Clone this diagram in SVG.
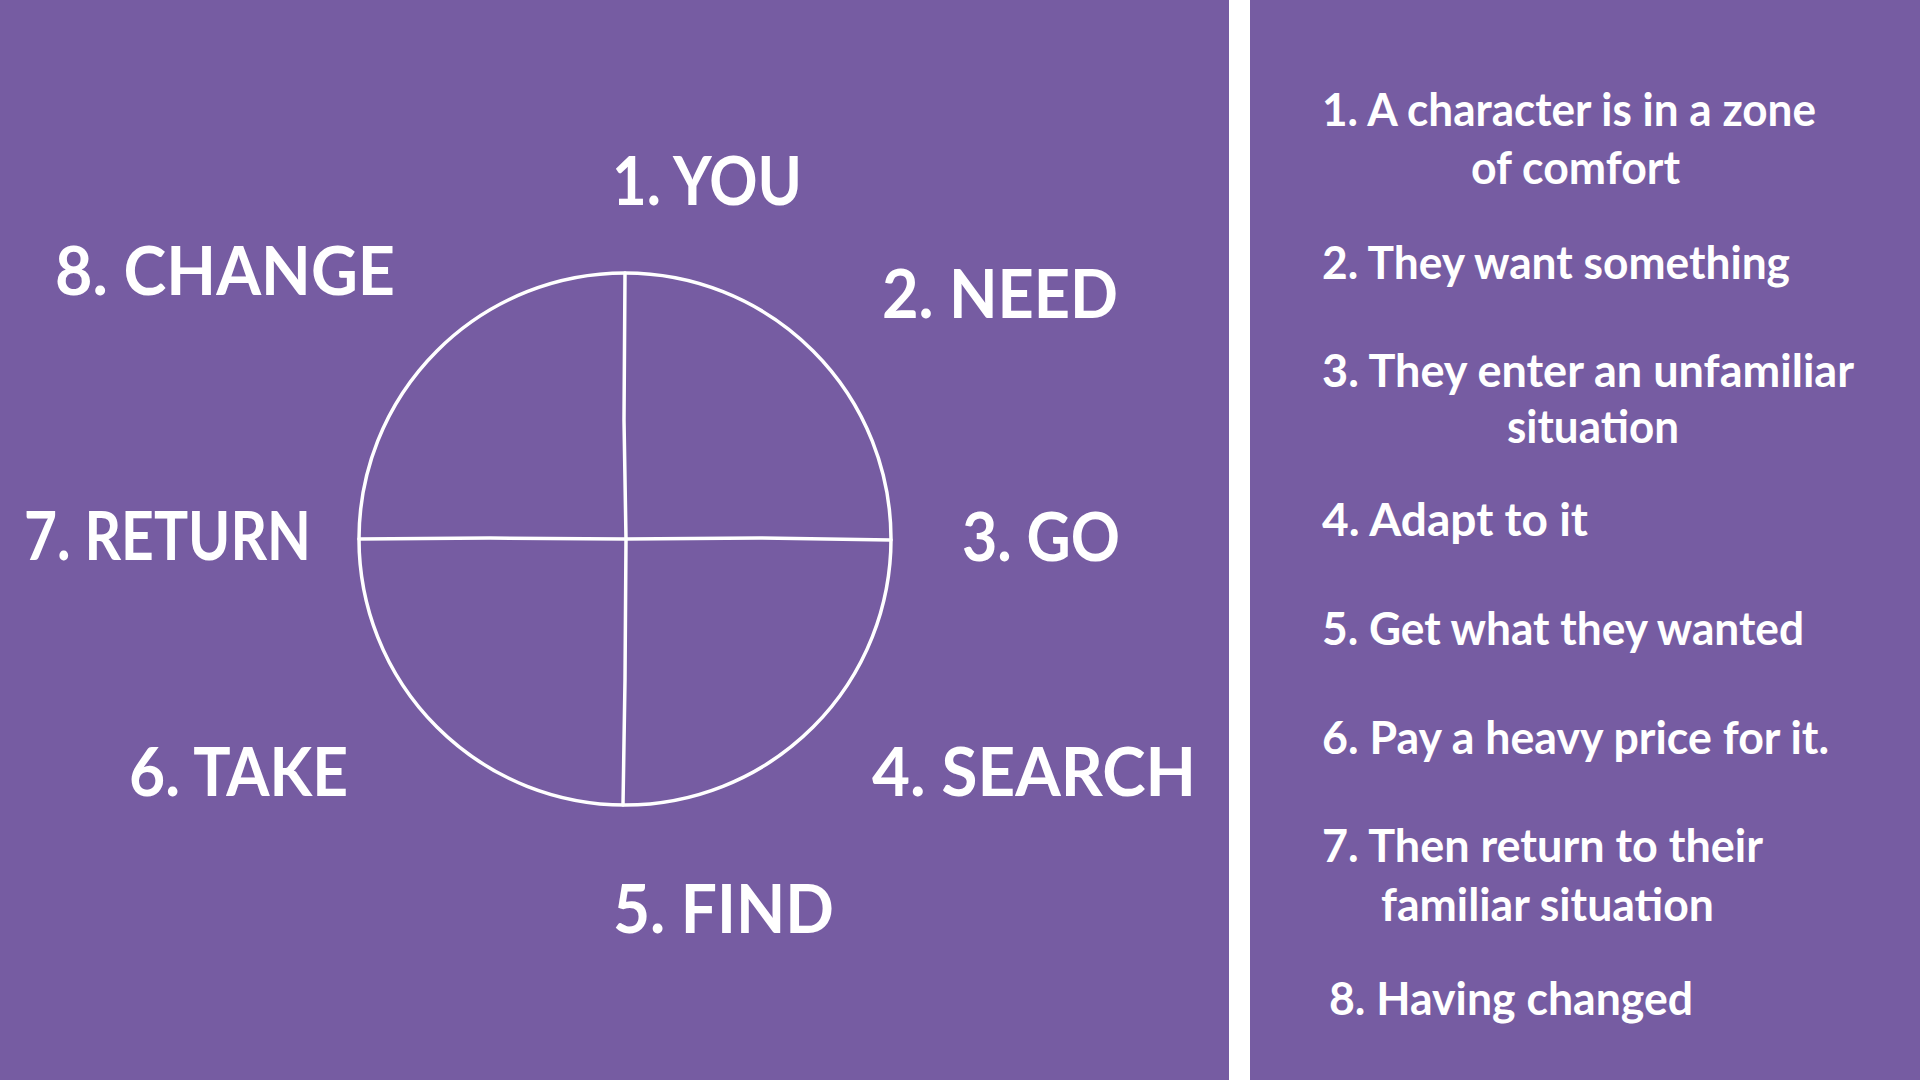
<svg xmlns="http://www.w3.org/2000/svg" width="1920" height="1080" viewBox="0 0 1920 1080">
<style>
.big{font-family:Lato,"Noto Sans",sans-serif;font-weight:700;font-size:66px;fill:#ffffff}
.sm{font-family:Lato,"Noto Sans",sans-serif;font-weight:700;font-size:45px;fill:#ffffff}
.ln{stroke:#ffffff;stroke-width:3.5;fill:none;stroke-linecap:round;stroke-linejoin:round}
</style>
<rect x="0" y="0" width="1920" height="1080" fill="#765CA2"/>
<rect x="1229" y="0" width="21" height="1080" fill="#ffffff"/>
<g id="wheel">
<circle class="ln" cx="625" cy="539" r="266"/>
</g>
<g id="connectors">
<path class="ln" d="M625 273 L624 420 L626 539 L625 680 L623 805"/>
<path class="ln" d="M359 539 L490 538 L625 539 L760 538 L891 540"/>
</g>
<g id="n1"><text class="big" x="612" y="205" textLength="190" lengthAdjust="spacingAndGlyphs">1. YOU</text></g>
<g id="n2"><text class="big" x="882" y="318" textLength="236" lengthAdjust="spacingAndGlyphs">2. NEED</text></g>
<g id="n3"><text class="big" x="962" y="561" textLength="158" lengthAdjust="spacingAndGlyphs">3. GO</text></g>
<g id="n4"><text class="big" x="872" y="796" textLength="324" lengthAdjust="spacingAndGlyphs">4. SEARCH</text></g>
<g id="n5"><text class="big" x="613" y="933" textLength="221" lengthAdjust="spacingAndGlyphs">5. FIND</text></g>
<g id="n6"><text class="big" x="129" y="796" textLength="219" lengthAdjust="spacingAndGlyphs">6. TAKE</text></g>
<g id="n7"><text class="big" x="24" y="560" textLength="287" lengthAdjust="spacingAndGlyphs">7. RETURN</text></g>
<g id="n8"><text class="big" x="55" y="295" textLength="340" lengthAdjust="spacingAndGlyphs">8. CHANGE</text></g>
<g id="list">
<text class="sm" x="1322" y="126" textLength="494" lengthAdjust="spacingAndGlyphs">1. A character is in a zone</text>
<text class="sm" x="1471" y="184" textLength="209" lengthAdjust="spacingAndGlyphs">of comfort</text>
<text class="sm" x="1322" y="279" textLength="468" lengthAdjust="spacingAndGlyphs">2. They want something</text>
<text class="sm" x="1322" y="387" textLength="532" lengthAdjust="spacingAndGlyphs">3. They enter an unfamiliar</text>
<text class="sm" x="1507" y="443" textLength="172" lengthAdjust="spacingAndGlyphs">situation</text>
<text class="sm" x="1322" y="536" textLength="266" lengthAdjust="spacingAndGlyphs">4. Adapt to it</text>
<text class="sm" x="1322" y="645" textLength="482" lengthAdjust="spacingAndGlyphs">5. Get what they wanted</text>
<text class="sm" x="1322" y="754" textLength="507" lengthAdjust="spacingAndGlyphs">6. Pay a heavy price for it.</text>
<text class="sm" x="1322" y="862" textLength="441" lengthAdjust="spacingAndGlyphs">7. Then return to their</text>
<text class="sm" x="1381" y="921" textLength="333" lengthAdjust="spacingAndGlyphs">familiar situation</text>
<text class="sm" x="1329" y="1015" textLength="364" lengthAdjust="spacingAndGlyphs">8. Having changed</text>
</g>
</svg>
